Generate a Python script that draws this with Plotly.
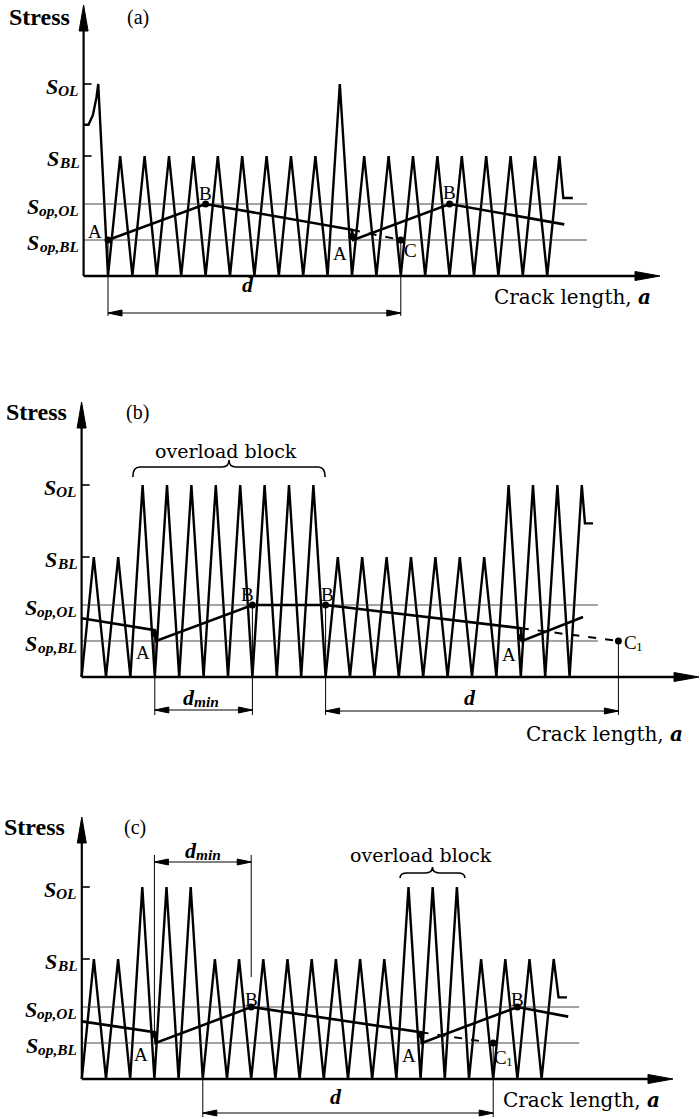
import plotly.graph_objects as go

W, H = 700, 1119
SY = 120.0                      # pixels per stress unit
SERIF = "Liberation Serif"
WIDE = "DejaVu Serif"

# ---------------- data (schematic values) ----------------
S_OL, S_BL, S_OP_OL, S_OP_BL = 1.6, 1.0, 0.6, 0.3
tick_levels = [S_OL, S_BL, S_OP_OL, S_OP_BL]
tick_subs = ["OL", "BL", "op,OL", "op,BL"]

# panel (a): single overloads
a_lead_x = [-1.0, -0.8, -0.62, -0.47, -0.4]
a_lead_y = [1.26, 1.26, 1.34, 1.49, 1.60]
a_first_valley = 0
a_peaks = [1.0, 1.0, 1.0, 1.0, 1.0, 1.0, 1.0, 1.0, 1.0, 1.6,
           1.0, 1.0, 1.0, 1.0, 1.0, 1.0, 1.0, 1.0, 1.0]
a_tail_x = [18.66, 19.05]
a_tail_y = [0.65, 0.65]
a_op_x = [0, 4, 10, 10.05, 14, 18.7]
a_op_y = [0.30, 0.60, 0.385, 0.30, 0.60, 0.43]
a_dash_x = [10, 12]
a_dash_y = [0.385, 0.30]
a_pts_x = [0, 4, 10, 12, 14]
a_pts_y = [0.30, 0.60, 0.33, 0.30, 0.60]
a_pts_lab = [("A", ""), ("B", ""), ("A", ""), ("C", ""), ("B", "")]
a_ref_end = 19.63
a_d = [0, 12]

# panel (b): long overload blocks
b_lead_x = []
b_lead_y = []
b_first_valley = -1
b_peaks = [1.0, 1.0, 1.6, 1.6, 1.6, 1.6, 1.6, 1.6, 1.6, 1.6,
           1.0, 1.0, 1.0, 1.0, 1.0, 1.0, 1.0, 1.6, 1.6, 1.6, 1.6]
b_tail_x = [19.63, 19.96]
b_tail_y = [1.28, 1.28]
b_op_x = [-1, 2, 2.05, 6, 9, 17, 17.05, 19.55]
b_op_y = [0.49, 0.39, 0.30, 0.60, 0.60, 0.407, 0.30, 0.50]
b_dash_x = [17, 21]
b_dash_y = [0.407, 0.30]
b_pts_x = [2, 6, 9, 17, 21]
b_pts_y = [0.36, 0.60, 0.60, 0.33, 0.30]
b_pts_lab = [("A", ""), ("B", ""), ("B", ""), ("A", ""), ("C", "1")]
b_ref_end = 20.16
b_dmin = [2, 6]
b_d = [9, 21]
b_block = [1.1, 8.98]

# panel (c): short overload blocks
c_lead_x = []
c_lead_y = []
c_first_valley = -1
c_peaks = [1.0, 1.0, 1.6, 1.6, 1.6, 1.0, 1.0, 1.0, 1.0, 1.0,
           1.0, 1.0, 1.0, 1.6, 1.6, 1.6, 1.0, 1.0, 1.0, 1.0]
c_tail_x = [18.7, 19.05]
c_tail_y = [0.68, 0.68]
c_op_x = [-1, 2, 2.05, 6, 13, 13.05, 17, 19.1]
c_op_y = [0.48, 0.39, 0.30, 0.60, 0.39, 0.30, 0.60, 0.52]
c_dash_x = [13, 16]
c_dash_y = [0.39, 0.30]
c_pts_x = [2, 6, 13, 16, 17]
c_pts_y = [0.37, 0.60, 0.37, 0.30, 0.60]
c_pts_lab = [("A", ""), ("B", ""), ("A", ""), ("C", "1"), ("B", "")]
c_ref_end = 19.55
c_dmin = [2, 6]
c_d = [4, 16]
c_block = [12.15, 14.83]

# ---------------- layout / style (pixel based) ----------------
# advance widths (em) of Times-like glyphs, used to set subscripts next to their base text
BOLD_ITALIC_EM = {"S": .556, "O": .722, "L": .611, "B": .667, "o": .5, "p": .5, ",": .25,
                  "d": .5, "m": .778, "i": .278, "n": .556}
ROMAN_EM = {"A": .722, "B": .667, "C": .667, "1": .5}

panels = [
    dict(tag="(a)", X0=108, SX=24.4, BASE=276, top=0, bottom=345,
         lead_x=a_lead_x, lead_y=a_lead_y, v0=a_first_valley, peaks=a_peaks,
         tail_x=a_tail_x, tail_y=a_tail_y, op_x=a_op_x, op_y=a_op_y,
         dash_x=a_dash_x, dash_y=a_dash_y, pts_x=a_pts_x, pts_y=a_pts_y,
         pts_lab=a_pts_lab, lab_off=[(-13, 9), (0, 11), (-12, -17), (10, -10), (0, 12)],
         ref_end=a_ref_end, stress_px=(39, 17), tag_px=(138, 17), ytip=5, xtip=660,
         crack_px=(572, 297)),
    dict(tag="(b)", X0=106, SX=24.4, BASE=677, top=345, bottom=765,
         lead_x=b_lead_x, lead_y=b_lead_y, v0=b_first_valley, peaks=b_peaks,
         tail_x=b_tail_x, tail_y=b_tail_y, op_x=b_op_x, op_y=b_op_y,
         dash_x=b_dash_x, dash_y=b_dash_y, pts_x=b_pts_x, pts_y=b_pts_y,
         pts_lab=b_pts_lab, lab_off=[(-12, -19), (-5, 11), (2, 11), (-12, -17), (15, -1)],
         ref_end=b_ref_end, stress_px=(36, 412), tag_px=(137, 412), ytip=402, xtip=699,
         crack_px=(604, 734)),
    dict(tag="(c)", X0=106, SX=24.2, BASE=1079, top=765, bottom=1119,
         lead_x=c_lead_x, lead_y=c_lead_y, v0=c_first_valley, peaks=c_peaks,
         tail_x=c_tail_x, tail_y=c_tail_y, op_x=c_op_x, op_y=c_op_y,
         dash_x=c_dash_x, dash_y=c_dash_y, pts_x=c_pts_x, pts_y=c_pts_y,
         pts_lab=c_pts_lab, lab_off=[(-14, -20), (0, 8), (-12, -21), (10, -14), (0, 8)],
         ref_end=c_ref_end, stress_px=(34, 827), tag_px=(135, 827), ytip=817, xtip=673,
         crack_px=(581, 1100)),
]

fig = go.Figure()
shapes = []
annotations = []


def X(p, px):
    return (px - p["X0"]) / p["SX"]


def Y(p, py):
    return (p["BASE"] - py) / SY


def DX(p, n):
    return n / p["SX"]


def DY(n):
    return n / SY


def line(p, x0, y0, x1, y1, w=1.0):
    shapes.append(dict(type="line", xref=p["xr"], yref=p["yr"], x0=x0, y0=y0, x1=x1, y1=y1,
                       line=dict(color="black", width=w), layer="above"))


def tri(p, tx, ty, direction, length, half):
    if direction == "left":
        b = tx + DX(p, length)
        pts = [(tx, ty), (b, ty + DY(half)), (b, ty - DY(half))]
    elif direction == "right":
        b = tx - DX(p, length)
        pts = [(tx, ty), (b, ty + DY(half)), (b, ty - DY(half))]
    else:  # up
        b = ty - DY(length)
        pts = [(tx, ty), (tx - DX(p, half), b), (tx + DX(p, half), b)]
    path = "M {},{} L {},{} L {},{} Z".format(*[v for pt in pts for v in pt])
    shapes.append(dict(type="path", xref=p["xr"], yref=p["yr"], path=path,
                       fillcolor="black", line=dict(color="black", width=1), layer="above"))


def text(p, x, y, t, size, family=SERIF, xanchor="center", yanchor="middle",
         weight="normal", style="normal"):
    annotations.append(dict(xref=p["xr"], yref=p["yr"], x=x, y=y, text=t, showarrow=False,
                            xanchor=xanchor, yanchor=yanchor, borderpad=0, borderwidth=0,
                            font=dict(family=family, size=size, color="black",
                                      weight=weight, style=style)))


def subtext(p, x, y, main, sub, size, anchor="center", bolditalic=True):
    """Base text plus a smaller, lowered subscript, set as two adjacent texts."""
    table = BOLD_ITALIC_EM if bolditalic else ROMAN_EM
    wgt, sty = ("bold", "italic") if bolditalic else ("normal", "normal")
    ssize = size * 0.7
    wm = sum(table[ch] for ch in main) * size
    ws = sum(table[ch] for ch in sub) * ssize
    tot = wm + ws
    left = {"left": 0, "center": -tot / 2, "right": -tot}[anchor]
    x_left = x + DX(p, left)
    text(p, x_left, y, main, size, xanchor="left", weight=wgt, style=sty)
    if sub:
        text(p, x_left + DX(p, wm), y - DY(4.5), sub, ssize, xanchor="left",
             weight=wgt, style=sty)


def dim(p, xa, xb, y_px, ext_a, ext_b, ext_end_px, sub, lab_px):
    y = Y(p, y_px)
    ye = Y(p, ext_end_px)
    line(p, xa, ext_a, xa, ye, 1.0)
    line(p, xb, ext_b, xb, ye, 1.0)
    line(p, xa, y, xb, y, 1.0)
    tri(p, xa, y, "left", 14, 3)
    tri(p, xb, y, "right", 14, 3)
    subtext(p, X(p, lab_px[0]), Y(p, lab_px[1]), "d", sub, 22)


def brace(p, xa, xb, yend_px, ybar_px, ytip_px, lab_px):
    ye, yb, yt = Y(p, yend_px), Y(p, ybar_px), Y(p, ytip_px)
    xm = (xa + xb) / 2
    r = DX(p, 7)
    path = (f"M {xa},{ye} Q {xa},{yb} {xa + r},{yb} L {xm - r},{yb} "
            f"Q {xm},{yb} {xm},{yt} Q {xm},{yb} {xm + r},{yb} L {xb - r},{yb} "
            f"Q {xb},{yb} {xb},{ye}")
    shapes.append(dict(type="path", xref=p["xr"], yref=p["yr"], path=path,
                       line=dict(color="black", width=1.6), layer="above"))
    text(p, X(p, lab_px[0]), Y(p, lab_px[1]), "overload block", 19, WIDE)


for i, p in enumerate(panels, start=1):
    sfx = "" if i == 1 else str(i)
    p["xr"], p["yr"] = "x" + sfx, "y" + sfx
    fig.update_layout(**{
        "xaxis" + sfx: dict(domain=[0, 1], range=[X(p, 0), X(p, W)], visible=False,
                            anchor="y" + sfx, fixedrange=True),
        "yaxis" + sfx: dict(domain=[1 - p["bottom"] / H, 1 - p["top"] / H],
                            range=[Y(p, p["bottom"]), Y(p, p["top"])], visible=False,
                            anchor="x" + sfx, fixedrange=True),
    })
    origin = -1.0

    # load sequence (waveform)
    wx, wy = list(p["lead_x"]), list(p["lead_y"])
    for k, pk in enumerate(p["peaks"]):
        wx += [p["v0"] + k, p["v0"] + k + 0.5]
        wy += [0.0, pk]
    wx += p["tail_x"]
    wy += p["tail_y"]
    fig.add_trace(go.Scatter(x=wx, y=wy, mode="lines", xaxis=p["xr"], yaxis=p["yr"],
                             line=dict(color="black", width=2.4), hoverinfo="skip",
                             showlegend=False))

    # opening stress reference lines
    for lev in (S_OP_OL, S_OP_BL):
        fig.add_trace(go.Scatter(x=[origin, p["ref_end"]], y=[lev, lev], mode="lines",
                                 xaxis=p["xr"], yaxis=p["yr"],
                                 line=dict(color="#333333", width=0.9), hoverinfo="skip",
                                 showlegend=False))

    # opening stress evolution
    fig.add_trace(go.Scatter(x=p["op_x"], y=p["op_y"], mode="lines", xaxis=p["xr"],
                             yaxis=p["yr"], line=dict(color="black", width=2.6),
                             hoverinfo="skip", showlegend=False))
    fig.add_trace(go.Scatter(x=p["dash_x"], y=p["dash_y"], mode="lines", xaxis=p["xr"],
                             yaxis=p["yr"], line=dict(color="black", width=2, dash="8px,9px"),
                             hoverinfo="skip", showlegend=False))
    fig.add_trace(go.Scatter(x=p["pts_x"], y=p["pts_y"], mode="markers", xaxis=p["xr"],
                             yaxis=p["yr"], marker=dict(color="black", size=7),
                             hoverinfo="skip", showlegend=False))
    for xx, yy, (lab, lsub), off in zip(p["pts_x"], p["pts_y"], p["pts_lab"], p["lab_off"]):
        subtext(p, xx + DX(p, off[0]), yy + DY(off[1]), lab, lsub, 19, bolditalic=False)

    # axes
    ytop = Y(p, p["ytip"])
    line(p, origin, 0, origin, ytop - DY(20), 2.2)
    tri(p, origin, ytop, "up", 26, 4.5)
    xend = X(p, p["xtip"])
    line(p, origin, 0, xend - DX(p, 20), 0, 2.4)
    tri(p, xend, 0, "right", 25, 4.5)
    for lev, sub in zip(tick_levels, tick_subs):
        if lev in (S_OL, S_BL):
            line(p, origin, lev, origin + DX(p, 8), lev, 1.6)
        subtext(p, origin - DX(p, 5), lev - DY(2), "S", sub, 22, anchor="right")

    text(p, X(p, p["stress_px"][0]), Y(p, p["stress_px"][1]), "Stress", 24, weight="bold")
    text(p, X(p, p["tag_px"][0]), Y(p, p["tag_px"][1]), p["tag"], 20)
    text(p, X(p, p["crack_px"][0]), Y(p, p["crack_px"][1]),
         "Crack length, <b><i>a</i></b>", 20, WIDE)

# dimension lines
pa, pb, pc = panels
dim(pa, a_d[0], a_d[1], 313, a_pts_y[0], a_pts_y[3], 316, "", (247, 284))
dim(pb, b_dmin[0], b_dmin[1], 710, b_pts_y[0], b_pts_y[1], 715, "min", (201, 697))
dim(pb, b_d[0], b_d[1], 711, b_pts_y[2], b_pts_y[4], 715, "", (469, 697))
dim(pc, c_dmin[0], c_dmin[1], 862, c_pts_y[0], Y(pc, 977), 855, "min", (203, 850))
dim(pc, c_d[0], c_d[1], 1113, 0.0, c_pts_y[3], 1117, "", (335, 1096))

# overload block braces
brace(pb, b_block[0], b_block[1], 477, 467, 460, (226, 451))
brace(pc, c_block[0], c_block[1], 878, 873, 867, (421, 855))

fig.update_layout(width=W, height=H, margin=dict(l=0, r=0, t=0, b=0),
                  paper_bgcolor="white", plot_bgcolor="white",
                  shapes=shapes, annotations=annotations, showlegend=False)
fig.write_html("out.html", config={"displayModeBar": False},
               post_script="document.body.style.margin='0px';"
                           "document.body.style.overflow='hidden';")
